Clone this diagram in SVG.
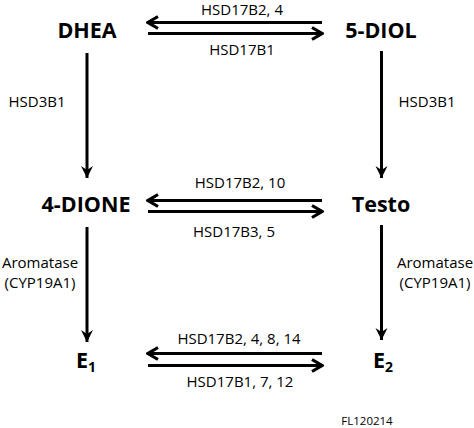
<svg xmlns="http://www.w3.org/2000/svg" width="474" height="428" viewBox="0 0 474 428">
<defs>
<style>
.node{font-family:"Open Sans","Liberation Sans",Arial,sans-serif;font-weight:bold;font-size:21.5px;fill:#000;text-anchor:middle}
.lbl{font-family:"Open Sans","Liberation Sans",Arial,sans-serif;font-size:15px;fill:#000;text-anchor:middle}
.h{stroke:#000;stroke-width:3;fill:none}
.v{stroke:#000;stroke-width:3;fill:none}
</style>
<marker id="chev" markerUnits="userSpaceOnUse" viewBox="-12 -8 14 16" markerWidth="14" markerHeight="16" refX="0" refY="0" orient="auto">
<polyline points="-10,-6 0,0 -10,6" fill="none" stroke="#000" stroke-width="3.2" stroke-linejoin="miter"/>
</marker>
<marker id="stealth" markerUnits="userSpaceOnUse" viewBox="-13 -7 14 14" markerWidth="14" markerHeight="14" refX="0" refY="0" orient="auto">
<path d="M0,0 L-12,-6 L-8,0 L-12,6 Z" fill="#000"/>
</marker>
</defs>
<rect width="474" height="428" fill="#fff"/>
<g id="connectors">
<line class="h" x1="322" y1="22.5" x2="148" y2="22.5" marker-end="url(#chev)"/>
<line class="h" x1="148" y1="33.5" x2="322" y2="33.5" marker-end="url(#chev)"/>
<line class="h" x1="322" y1="200.5" x2="148" y2="200.5" marker-end="url(#chev)"/>
<line class="h" x1="148" y1="211.5" x2="322" y2="211.5" marker-end="url(#chev)"/>
<line class="h" x1="322" y1="353.5" x2="148" y2="353.5" marker-end="url(#chev)"/>
<line class="h" x1="148" y1="365.5" x2="322" y2="365.5" marker-end="url(#chev)"/>
<line class="v" x1="87" y1="53" x2="87" y2="178" marker-end="url(#stealth)"/>
<line class="v" x1="381.5" y1="51" x2="381.5" y2="178" marker-end="url(#stealth)"/>
<line class="v" x1="87" y1="227" x2="87" y2="342" marker-end="url(#stealth)"/>
<line class="v" x1="381.5" y1="225" x2="381.5" y2="340" marker-end="url(#stealth)"/>
<text class="lbl" x="242" y="14.5">HSD17B2, 4</text>
<text class="lbl" x="242" y="55">HSD17B1</text>
<text class="lbl" x="37" y="106.5">HSD3B1</text>
<text class="lbl" x="427" y="106.5">HSD3B1</text>
<text class="lbl" x="240" y="187.5">HSD17B2, 10</text>
<text class="lbl" x="234" y="236.5">HSD17B3, 5</text>
<text class="lbl" x="40" y="268">Aromatase</text>
<text class="lbl" x="40" y="288">(CYP19A1)</text>
<text class="lbl" x="435" y="268">Aromatase</text>
<text class="lbl" x="435" y="288">(CYP19A1)</text>
<text class="lbl" x="239" y="344">HSD17B2, 4, 8, 14</text>
<text class="lbl" x="240" y="386.5">HSD17B1, 7, 12</text>
</g>
<g id="DHEA"><text class="node" x="87" y="37.5">DHEA</text></g>
<g id="5-DIOL"><text class="node" x="381" y="37.5">5-DIOL</text></g>
<g id="4-DIONE"><text class="node" x="86" y="212">4-DIONE</text></g>
<g id="Testo"><text class="node" x="381" y="212">Testo</text></g>
<g id="E1"><text class="node" x="86" y="368">E<tspan font-size="14" dy="4">1</tspan></text></g>
<g id="E2"><text class="node" x="383" y="368">E<tspan font-size="14" dy="4">2</tspan></text></g>
<text x="367" y="425" style="font-family:'Open Sans','Liberation Sans',Arial,sans-serif;font-size:11.5px;text-anchor:middle">FL120214</text>
</svg>
